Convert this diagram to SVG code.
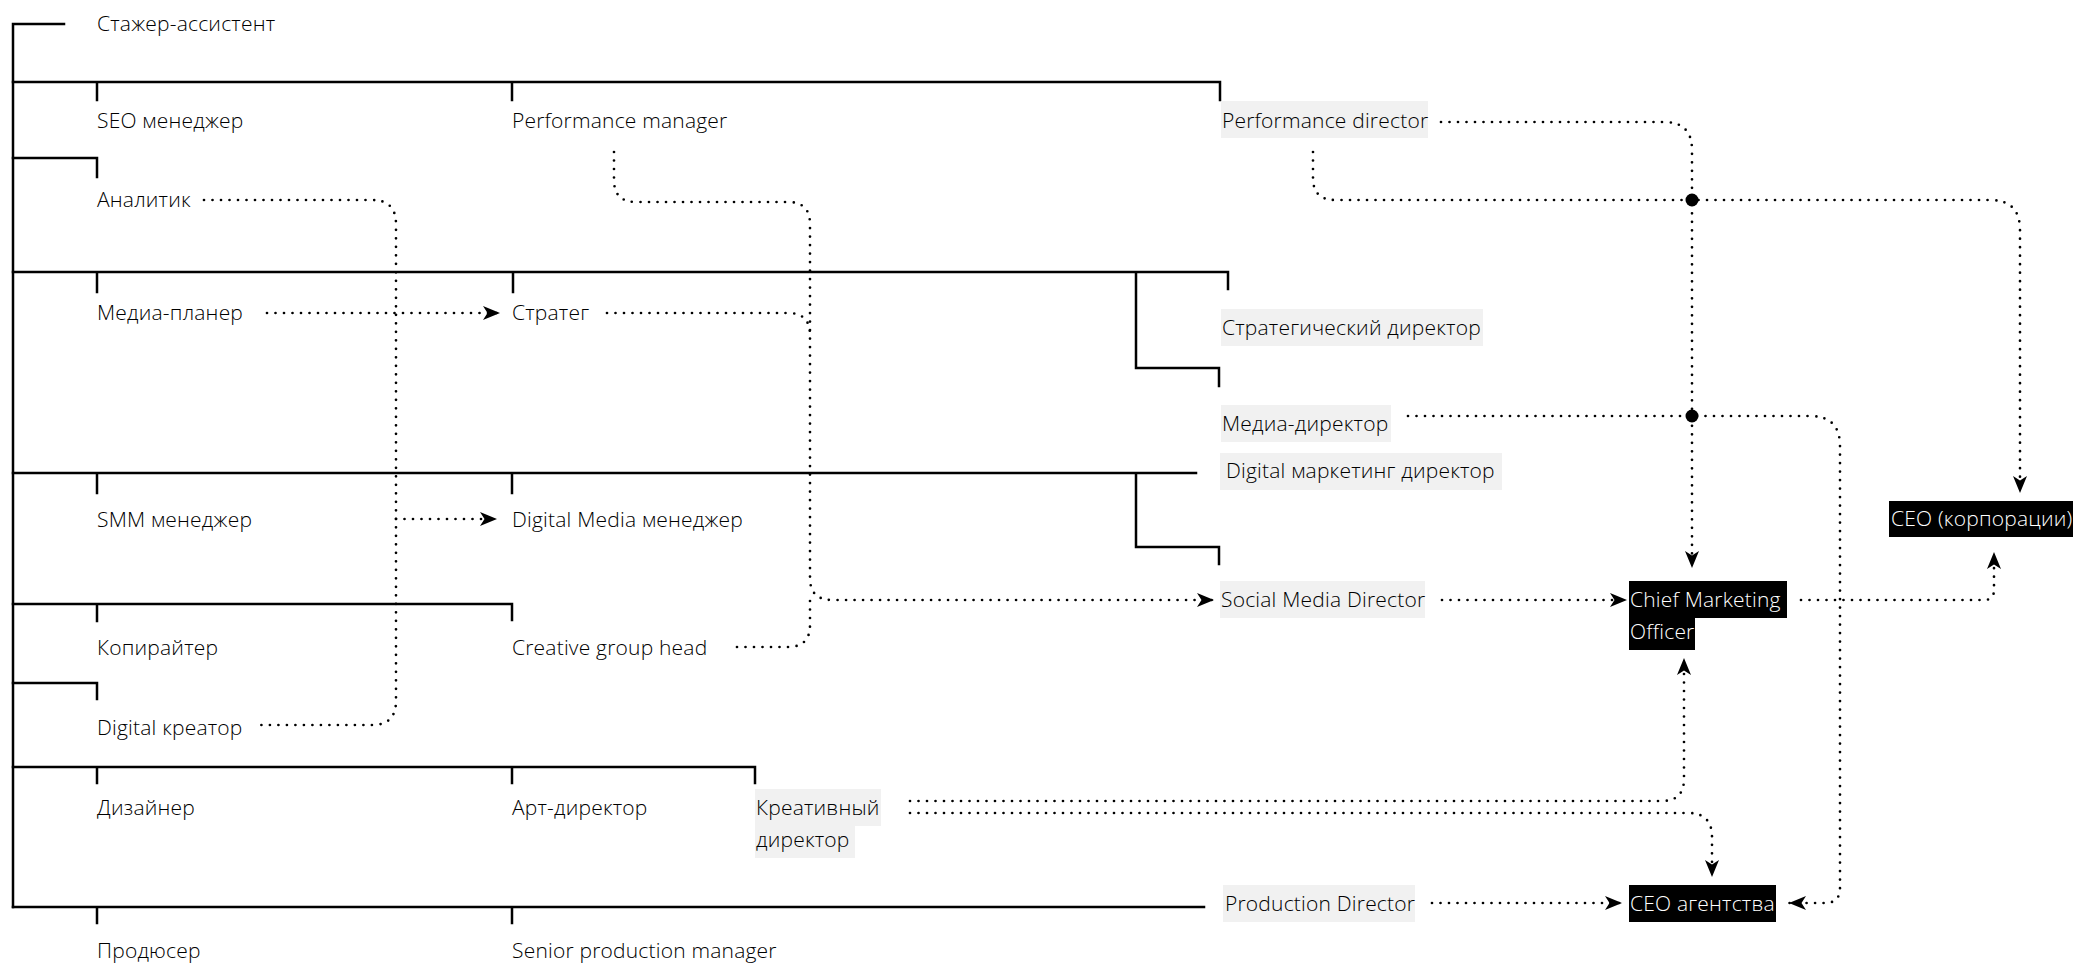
<svg xmlns="http://www.w3.org/2000/svg" width="2073" height="963" viewBox="0 0 2073 963">
<style>
  .t { font-family: "Open Sans", "Liberation Sans", sans-serif; font-size: 21px; font-weight: 350; letter-spacing: 0.2px; fill: #000; }
  .w { fill: #fff; }
  .g { fill: #f1f1f1; }
  .b { fill: #000; }
  .tree { fill: none; stroke: #000; stroke-width: 2.5; stroke-linecap: square; }
  .dot { fill: none; stroke: #000; stroke-width: 2.7; stroke-linecap: round; stroke-dasharray: 0 8.5; }
  .arr { marker-end: url(#ah); }
</style>
<defs>
  <marker id="ah" markerUnits="userSpaceOnUse" markerWidth="20" markerHeight="16" refX="17" refY="7" orient="auto">
    <path d="M0,0 L17,7 L0,14 L4.5,7 Z" fill="#000"/>
  </marker>
</defs>
<rect width="2073" height="963" fill="#fff"/>

<g id="connectors">
  <g id="tree-lines" class="tree">
    <path d="M13,24 H64 M13,24 V907"/>
    <path d="M13,82 H1220 V100 M97,82 V100 M512,82 V100"/>
    <path d="M13,158 H97 V177"/>
    <path d="M13,272 H1228 V289 M97,272 V292 M513,272 V292 M1136,272 V368 H1219 V386"/>
    <path d="M13,473 H1196 M97,473 V493 M512,473 V493 M1136,473 V547 H1219 V564"/>
    <path d="M13,604 H512 V620 M97,604 V621"/>
    <path d="M13,683 H97 V699"/>
    <path d="M13,767 H755 V783 M97,767 V783 M512,767 V783"/>
    <path d="M13,907 H1204 M97,907 V923 M512,907 V923"/>
  </g>
  <g id="links">
    <path class="dot" d="M204,200 H372 Q396,200 396,224 V701 Q396,725 372,725 H254"/>
    <path class="dot arr" d="M396,519 H497"/>
    <path class="dot arr" d="M267,313 H500"/>
    <path class="dot arr" d="M614,152 V180 Q614,202 636,202 H788 Q810,202 810,224 V578 Q810,600 832,600 H1214"/>
    <path class="dot" d="M607,313 H788 Q810,313 810,335"/>
    <path class="dot" d="M737,647 H788 Q810,647 810,625 V600"/>
    <path class="dot arr" d="M1441,122 H1664 Q1692,122 1692,150 V568"/>
    <path class="dot arr" d="M1313,152 V178 Q1313,200 1335,200 H1990 Q2020,200 2020,230 V493"/>
    <path class="dot arr" d="M1408,416 H1810 Q1840,416 1840,446 V888 Q1840,903 1825,903 H1789"/>
    <circle cx="1692" cy="200" r="6.5" fill="#000"/>
    <circle cx="1692" cy="416" r="6.5" fill="#000"/>
    <path class="dot arr" d="M1442,600 H1627"/>
    <path class="dot arr" d="M1801,600 H1984 Q1994,600 1994,590 V552"/>
    <path class="dot arr" d="M910,801 H1662 Q1684,801 1684,779 V658"/>
    <path class="dot arr" d="M910,813 H1688 Q1712,813 1712,837 V877"/>
    <path class="dot arr" d="M1432,903 H1622"/>
  </g>
</g>

<g id="n-intern"><text class="t" x="97" y="31">Стажер-ассистент</text></g>
<g id="n-seo"><text class="t" x="97" y="127.5">SEO менеджер</text></g>
<g id="n-perf-manager"><text class="t" x="512" y="127.5">Performance manager</text></g>
<g id="n-perf-director"><rect class="g" x="1221" y="101" width="207" height="37"/><text class="t" x="1222" y="127.5">Performance director</text></g>
<g id="n-analyst"><text class="t" x="97" y="207">Аналитик</text></g>
<g id="n-media-planner"><text class="t" x="97" y="319.5">Медиа-планер</text></g>
<g id="n-strateg"><text class="t" x="512" y="319.5">Стратег</text></g>
<g id="n-strat-director"><rect class="g" x="1221" y="309" width="262" height="37"/><text class="t" x="1222" y="334.5">Стратегический директор</text></g>
<g id="n-media-director"><rect class="g" x="1221" y="405" width="170" height="37"/><text class="t" x="1222" y="430.5">Медиа-директор</text></g>
<g id="n-digital-mkt-director"><rect class="g" x="1220" y="453" width="282" height="37"/><text class="t" x="1226" y="478">Digital маркетинг директор</text></g>
<g id="n-smm"><text class="t" x="97" y="526.5">SMM менеджер</text></g>
<g id="n-digital-media"><text class="t" x="512" y="526.5">Digital Media менеджер</text></g>
<g id="n-social-director"><rect class="g" x="1220" y="581" width="205" height="37"/><text class="t" x="1221" y="606.5">Social Media Director</text></g>
<g id="n-cmo"><rect class="b" x="1629" y="581" width="158" height="37"/><rect class="b" x="1629" y="617" width="66" height="33"/><text class="t w" x="1630" y="606.5">Chief Marketing</text><text class="t w" x="1630" y="638.5">Officer</text></g>
<g id="n-ceo-corp"><rect class="b" x="1889" y="501" width="190" height="36"/><text class="t w" x="1891" y="526">CEO (корпорации)</text></g>
<g id="n-copywriter"><text class="t" x="97" y="655">Копирайтер</text></g>
<g id="n-creative-head"><text class="t" x="512" y="655">Creative group head</text></g>
<g id="n-digital-creator"><text class="t" x="97" y="735">Digital креатор</text></g>
<g id="n-designer"><text class="t" x="97" y="815">Дизайнер</text></g>
<g id="n-art-director"><text class="t" x="512" y="815">Арт-директор</text></g>
<g id="n-creative-director"><rect class="g" x="755" y="789" width="126" height="37"/><rect class="g" x="755" y="825" width="100" height="33"/><text class="t" x="756" y="814.5">Креативный</text><text class="t" x="756" y="847">директор</text></g>
<g id="n-production-director"><rect class="g" x="1223" y="885" width="192" height="37"/><text class="t" x="1225" y="910.5">Production Director</text></g>
<g id="n-ceo-agency"><rect class="b" x="1629" y="885" width="147" height="37"/><text class="t w" x="1630" y="910.5">CEO агентства</text></g>
<g id="n-producer"><text class="t" x="97" y="958">Продюсер</text></g>
<g id="n-senior-pm"><text class="t" x="512" y="958">Senior production manager</text></g>
</svg>
